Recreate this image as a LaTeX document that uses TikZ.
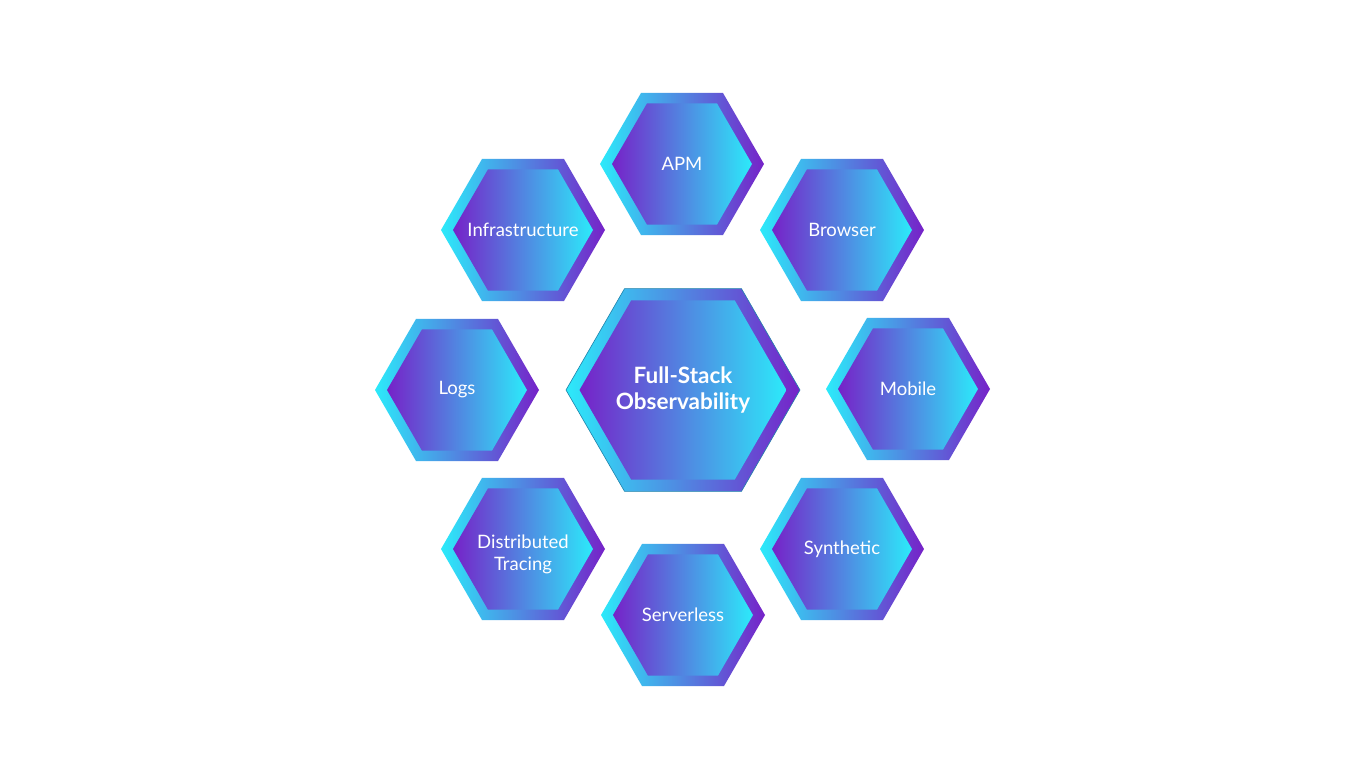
\documentclass[tikz,border=0pt]{standalone}
\usepackage{fontspec}
\setmainfont{Lato}
\definecolor{pu}{RGB}{118,34,200}
\definecolor{cy}{RGB}{44,234,250}
\definecolor{edge}{RGB}{30,130,170}
\tikzset{
  outerhex/.style={left color=cy, right color=pu},
  innerhex/.style={left color=pu, right color=cy},
  lbl/.style={text=white, font=\fontsize{18.5}{22}\selectfont, align=center, inner sep=0pt},
  mainlbl/.style={text=white, font=\bfseries\fontsize{22.5}{26}\selectfont, align=center, inner sep=0pt}
}
\newcommand\hexshape[4]{% x y R style
  \path[#4] (#1,#2) ++(0:#3) -- ++(120:#3) -- ++(180:#3) -- ++(240:#3) -- ++(300:#3) -- ++(0:#3) -- cycle;}
\newcommand\hexcell[5][0]{% [dy] x y name text
  \hexshape{#2}{#3}{82}{outerhex}
  \hexshape{#2}{#3}{70}{innerhex}
  \node[lbl] (#4) at (#2,#3+#1) {#5};}
\begin{document}
\begin{tikzpicture}[x=1pt,y=-1pt]
\useasboundingbox[fill=white] (0,0) rectangle (1366,768);
\hexcell{682}{164}{apm}{APM}
\hexcell{842}{230}{browser}{Browser}
\hexcell{523}{230}{infra}{Infrastructure}
\hexcell{457}{390}{logs}{Logs}
\hexcell{908}{389}{mobile}{Mobile}
\hexcell[5]{523}{549}{dist}{Distributed\\Tracing}
\hexcell{842}{549}{synth}{Synthetic}
\hexcell{683}{615}{serverless}{Serverless}
\hexshape{683}{390}{117}{outerhex, draw=edge, line width=0.6pt}
\hexshape{683}{390}{103.5}{innerhex}
\node[mainlbl] (core) at (683,390) {Full-Stack\\Observability};
\end{tikzpicture}
\end{document}
